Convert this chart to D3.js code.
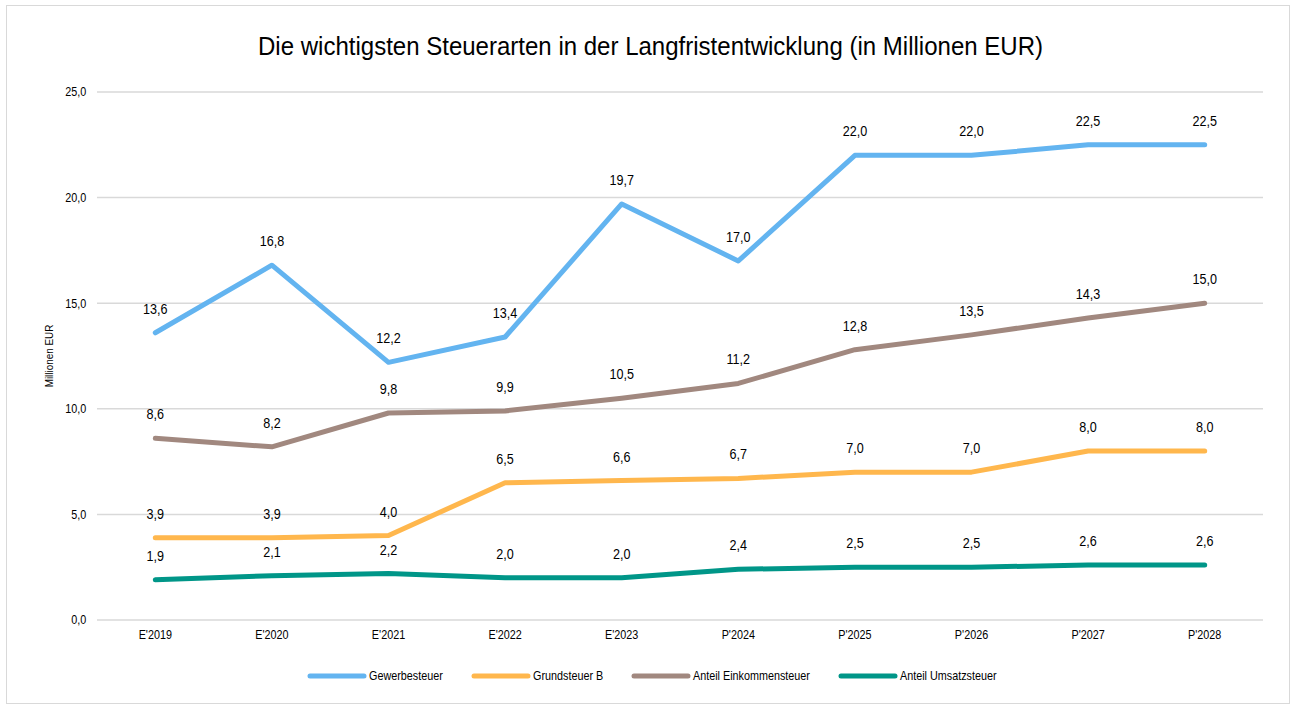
<!DOCTYPE html>
<html>
<head>
<meta charset="utf-8">
<script src="https://cdn.jsdelivr.net/npm/d3@7"></script>
<style>
  body { margin: 0; background: #fff; }
  text { font-family: "Liberation Sans", Arial, sans-serif; fill: #000; }
</style>
</head>
<body>
<div id="chart"></div>
<script>
let years = ["E'2019", "E'2020", "E'2021", "E'2022", "E'2023", "P'2024", "P'2025", "P'2026", "P'2027", "P'2028"];
let seriesNames = ['Gewerbesteuer', 'Grundsteuer B', 'Anteil Einkommensteuer', 'Anteil Umsatzsteuer'];
let gewerbe = [13.6, 16.8, 12.2, 13.4, 19.7, 17.0, 22.0, 22.0, 22.5, 22.5];
let grundB = [3.9, 3.9, 4.0, 6.5, 6.6, 6.7, 7.0, 7.0, 8.0, 8.0];
let einkommen = [8.6, 8.2, 9.8, 9.9, 10.5, 11.2, 12.8, 13.5, 14.3, 15.0];
let umsatz = [1.9, 2.1, 2.2, 2.0, 2.0, 2.4, 2.5, 2.5, 2.6, 2.6];
let yTicks = [0, 5, 10, 15, 20, 25];
let colors = ['#63b4f0', '#ffb74d', '#a1887f', '#009688'];

let series = [gewerbe, grundB, einkommen, umsatz].map((v, i) => ({name: seriesNames[i], values: v, color: colors[i]}));

let W = 1293, H = 708;
let narrow = 0.9; // reference font is a bit condensed
let svg = d3.select('#chart')
            .append('svg')
            .attr('width', W)
            .attr('height', H)

svg.append('rect')
    .attr('x', 6.5).attr('y', 5.5)
    .attr('width', 1283).attr('height', 698)
    .attr('fill', '#fff')
    .attr('stroke', '#d9d9d9')

let x = d3.scaleBand().domain(years).range([97, 1263]);
let y = d3.scaleLinear().domain([0, 25]).range([620, 92]);
let fmt = (v) => v.toFixed(1).replace('.', ',');
let cx = (i) => x(years[i]) + x.bandwidth() / 2;

// title
svg.append('text')
    .attr('x', 258).attr('y', 55)
    .attr('textLength', 785)
    .attr('lengthAdjust', 'spacingAndGlyphs')
    .style('font-size', '26px')
    .text('Die wichtigsten Steuerarten in der Langfristentwicklung (in Millionen EUR)')

// grid
svg.append('g').selectAll('line')
    .data(yTicks)
    .enter()
    .append('line')
    .attr('x1', 97).attr('x2', 1263)
    .attr('y1', (d) => y(d)).attr('y2', (d) => y(d))
    .attr('stroke', '#d9d9d9')
    .attr('stroke-width', 1.5)

let yAxis = svg.append('g')
    .attr('transform', 'translate(97,0)')
    .call(d3.axisLeft(y).tickValues(yTicks).tickFormat(fmt).tickSize(0).tickPadding(12))
yAxis.select('.domain').remove()
yAxis.selectAll('text')
    .style('font-size', '12px')
    .style('font-family', '"Liberation Sans", Arial, sans-serif')
    .attr('transform', 'scale(' + narrow + ',1)')

let xAxis = svg.append('g')
    .attr('transform', 'translate(0,620)')
    .call(d3.axisBottom(x).tickSize(0).tickPadding(10))
xAxis.select('.domain').remove()
xAxis.selectAll('text')
    .style('font-size', '12px')
    .style('font-family', '"Liberation Sans", Arial, sans-serif')
    .attr('transform', 'scale(' + narrow + ',1)')

svg.append('text')
    .attr('transform', 'translate(53,356) rotate(-90) scale(' + narrow + ',1)')
    .attr('text-anchor', 'middle')
    .style('font-size', '11px')
    .text('Millionen EUR')

let line = d3.line()
    .x((d, i) => cx(i))
    .y((d) => y(d))

svg.append('g').selectAll('path')
    .data(series)
    .enter()
    .append('path')
    .attr('d', (d) => line(d.values))
    .attr('fill', 'none')
    .attr('stroke', (d) => d.color)
    .attr('stroke-width', 5)
    .attr('stroke-linecap', 'round')
    .attr('stroke-linejoin', 'round')

series.forEach((s) => {
    svg.append('g').selectAll('text')
        .data(s.values)
        .enter()
        .append('text')
        .attr('transform', (d, i) => 'translate(' + cx(i) + ',' + (y(d) - 19) + ') scale(' + narrow + ',1)')
        .attr('text-anchor', 'middle')
        .style('font-size', '14px')
        .text(fmt)
})

// legend
let legendX = [310, 474, 634, 841];
let legend = svg.append('g').selectAll('g')
    .data(series)
    .enter()
    .append('g')
    .attr('transform', (d, i) => 'translate(' + legendX[i] + ',676)')
legend.append('line')
    .attr('x1', 0).attr('x2', 54)
    .attr('stroke', (d) => d.color)
    .attr('stroke-width', 5)
    .attr('stroke-linecap', 'round')
legend.append('text')
    .attr('transform', 'translate(59,4) scale(' + narrow + ',1)')
    .style('font-size', '12px')
    .text((d) => d.name)
</script>
</body>
</html>
